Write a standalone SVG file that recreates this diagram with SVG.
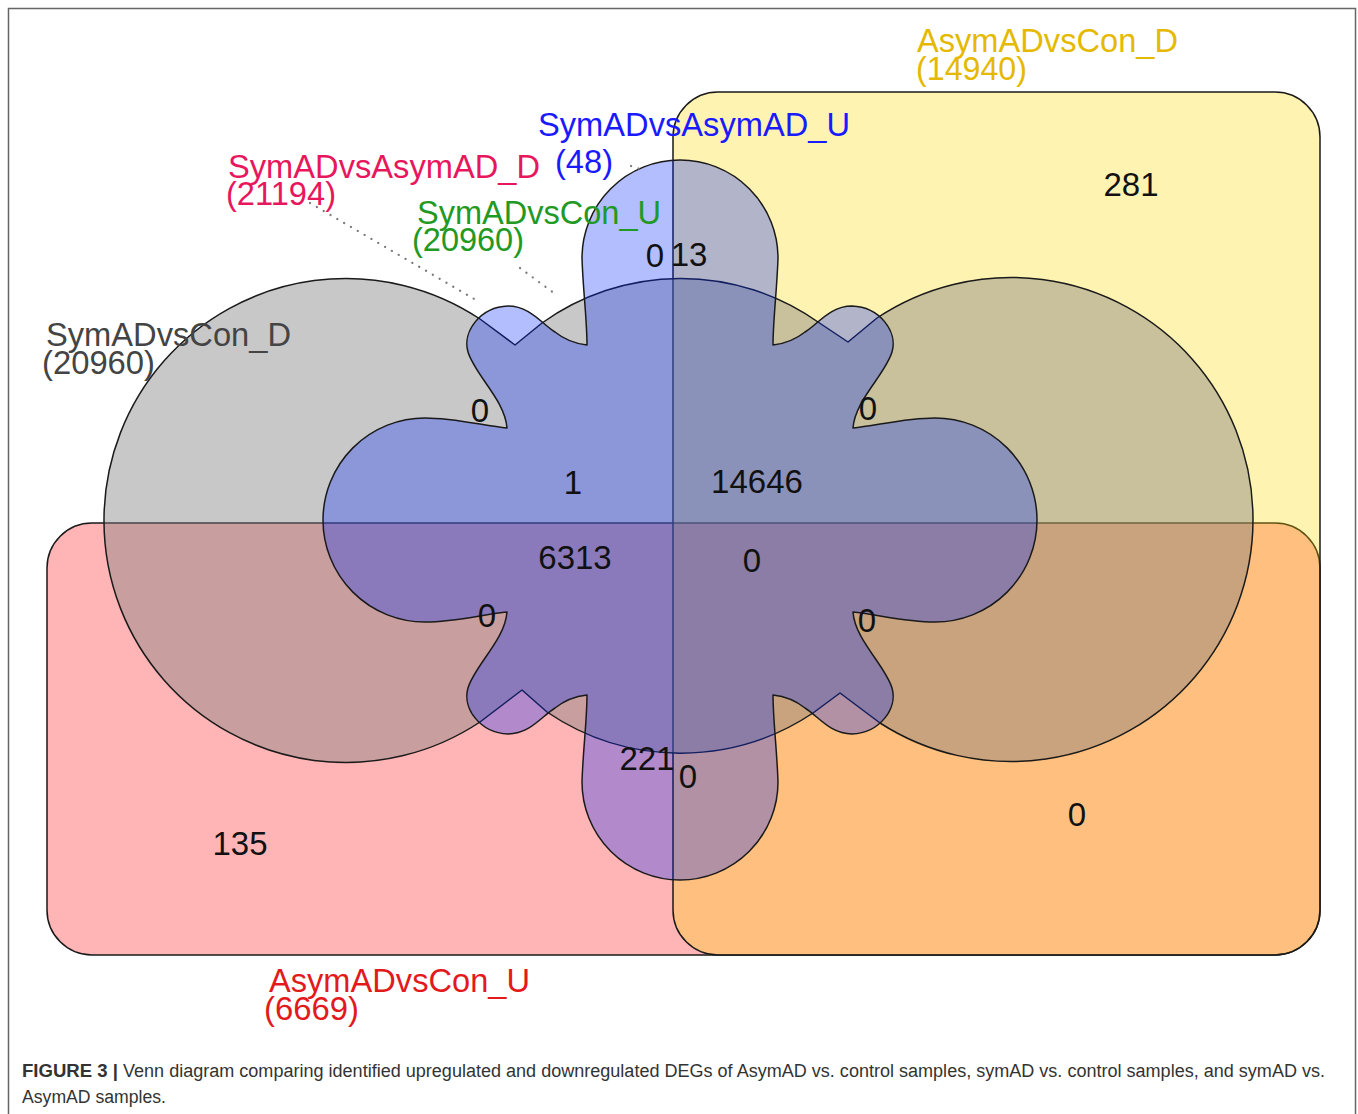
<svg xmlns="http://www.w3.org/2000/svg" width="1358" height="1114" viewBox="0 0 1358 1114">
<style>
.shape{stroke:#1a1a1a;stroke-width:1.5;stroke-linejoin:round}
.lab{font-family:"Liberation Sans",Arial,sans-serif;font-size:34px}
.num{font-family:"Liberation Sans",Arial,sans-serif;font-size:33px;fill:#111;text-anchor:middle}
.cap{font-family:"Liberation Sans",Arial,sans-serif;font-size:18px;fill:#333}
.lead{fill:none;stroke:#7a7a7a;stroke-width:2.2;stroke-linecap:round;stroke-dasharray:0.1 7.8}
</style>
<rect x="0" y="0" width="1358" height="1114" fill="#ffffff"/>
<rect id="frame" x="8.5" y="8.5" width="1347" height="1130" fill="none" stroke="#666" stroke-width="1.5"/>

<g id="set-AsymADvsCon_U">
<rect class="shape" x="47" y="523" width="1273" height="432" rx="45" ry="45" fill="#ff0000" fill-opacity="0.29"/>
</g>
<g id="set-AsymADvsCon_D">
<rect class="shape" x="673" y="92" width="647" height="863" rx="45" ry="45" fill="#ffd700" fill-opacity="0.3"/>
</g>
<g id="set-SymADvsCon_D">
<path class="shape" fill="#7f7f7f" fill-opacity="0.43" d="M480,319 A242,242 0 1 0 480,722 L522,690 L547,712 A238,238 0 0 0 813,713 L840,693 L880,723 A242,242 0 1 0 877,318 L848,342 L818,322 A238,238 0 0 0 542,323 L515,345 Z"/>
</g>
<g id="set-SymADvsAsymAD_U">
<path class="shape" fill="#0028ff" fill-opacity="0.3" transform="translate(680,520)" d="M0,-360 A98,98 0 0 1 98,-262 C97,-230 93,-200 93,-175 C102,-176 115,-180 125,-188 C138,-196 150,-214 172,-214 C200,-213 218,-188 212,-168 C205,-145 175,-120 173,-92 C195,-94 225,-102 255,-102 A102,102 0 0 1 357,0 A102,102 0 0 1 255,102 C225,102 195,94 173,92 C175,120 205,145 212,168 C218,188 200,213 172,214 C150,214 138,196 125,188 C115,180 102,176 93,175 C93,200 97,230 98,262 A98,98 0 0 1 0,360 A98,98 0 0 1 -98,262 C-97,230 -93,200 -93,175 C-102,176 -115,180 -125,188 C-138,196 -150,214 -172,214 C-200,213 -218,188 -212,168 C-205,145 -175,120 -173,92 C-195,94 -225,102 -255,102 A102,102 0 0 1 -357,0 A102,102 0 0 1 -255,-102 C-225,-102 -195,-94 -173,-92 C-175,-120 -205,-145 -212,-168 C-218,-188 -200,-213 -172,-214 C-150,-214 -138,-196 -125,-188 C-115,-180 -102,-176 -93,-175 C-93,-200 -97,-230 -98,-262 A98,98 0 0 1 0,-360 Z"/>
</g>

<g id="connectors">
<path class="lead" d="M310,203 L476,300"/>
<path class="lead" d="M520,268 L558,296"/>
<path class="lead" d="M631,166 L640,169"/>
</g>

<g id="labels">
<text class="lab" fill="#e5b900" x="917" y="52" textLength="261" lengthAdjust="spacingAndGlyphs">AsymADvsCon_D</text>
<text class="lab" fill="#e5b900" x="916" y="80" textLength="111" lengthAdjust="spacingAndGlyphs">(14940)</text>
<text class="lab" fill="#1a1aff" x="538" y="136" textLength="312" lengthAdjust="spacingAndGlyphs">SymADvsAsymAD_U</text>
<text class="lab" fill="#1a1aff" x="555" y="173" textLength="58" lengthAdjust="spacingAndGlyphs">(48)</text>
<text class="lab" fill="#e8175d" x="228" y="178" textLength="312" lengthAdjust="spacingAndGlyphs">SymADvsAsymAD_D</text>
<text class="lab" fill="#e8175d" x="226" y="205" textLength="110" lengthAdjust="spacingAndGlyphs">(21194)</text>
<text class="lab" fill="#229922" x="417" y="224" textLength="244" lengthAdjust="spacingAndGlyphs">SymADvsCon_U</text>
<text class="lab" fill="#229922" x="412" y="251" textLength="112" lengthAdjust="spacingAndGlyphs">(20960)</text>
<text class="lab" fill="#444444" x="46" y="346" textLength="245" lengthAdjust="spacingAndGlyphs">SymADvsCon_D</text>
<text class="lab" fill="#444444" x="42" y="374" textLength="113" lengthAdjust="spacingAndGlyphs">(20960)</text>
<text class="lab" fill="#e31a1c" x="269" y="992" textLength="261" lengthAdjust="spacingAndGlyphs">AsymADvsCon_U</text>
<text class="lab" fill="#e31a1c" x="264" y="1020" textLength="95" lengthAdjust="spacingAndGlyphs">(6669)</text>
</g>

<g id="counts">
<text class="num" x="1131" y="196">281</text>
<text class="num" x="655" y="267">0</text>
<text class="num" x="689" y="266">13</text>
<text class="num" x="480" y="422">0</text>
<text class="num" x="868" y="420">0</text>
<text class="num" x="573" y="494">1</text>
<text class="num" x="757" y="493">14646</text>
<text class="num" x="575" y="569">6313</text>
<text class="num" x="752" y="572">0</text>
<text class="num" x="487" y="627">0</text>
<text class="num" x="867" y="632">0</text>
<text class="num" x="647" y="770">221</text>
<text class="num" x="688" y="788">0</text>
<text class="num" x="240" y="855">135</text>
<text class="num" x="1077" y="826">0</text>
</g>

<g id="caption">
<text class="cap" x="22" y="1077" font-weight="bold" textLength="96" lengthAdjust="spacingAndGlyphs">FIGURE 3 |</text>
<text class="cap" x="123" y="1077" textLength="1202" lengthAdjust="spacingAndGlyphs">Venn diagram comparing identified upregulated and downregulated DEGs of AsymAD vs. control samples, symAD vs. control samples, and symAD vs.</text>
<text class="cap" x="22" y="1103" textLength="144" lengthAdjust="spacingAndGlyphs">AsymAD samples.</text>
</g>
</svg>
